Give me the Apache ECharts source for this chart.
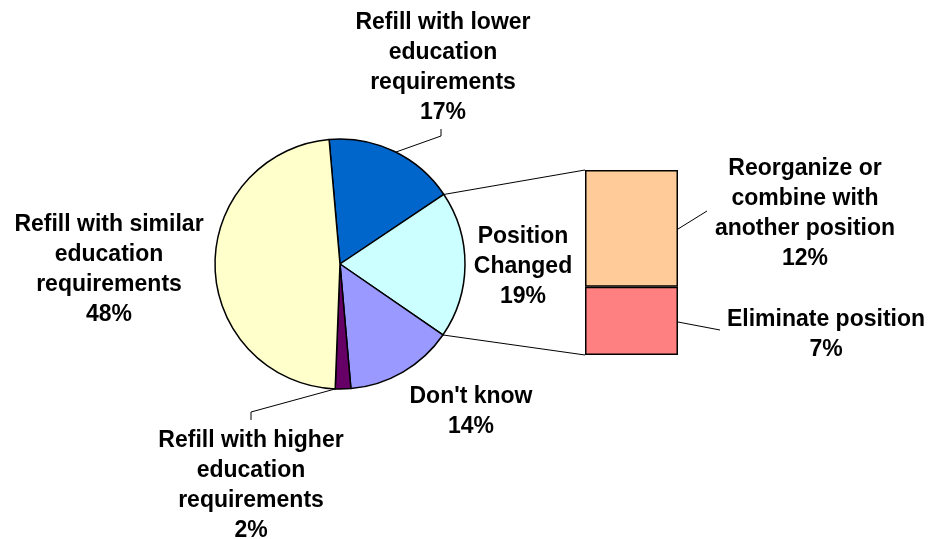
<!DOCTYPE html>
<html>
<head>
<meta charset="utf-8">
<script src="https://cdn.jsdelivr.net/npm/echarts@6/dist/echarts.min.js"></script>
<style>html,body{margin:0;padding:0;background:#fff}#c{width:932px;height:539px}</style>
</head>
<body>
<div id="c"></div>
<script>
// ---- data ----
const pieNames = [
  'Refill with lower\neducation\nrequirements',
  'Position\nChanged',
  "Don't know",
  'Refill with higher\neducation\nrequirements',
  'Refill with similar\neducation\nrequirements'
];
const pieValues = [17, 19, 14, 2, 48];
const pieColors = ['#0066CC', '#CCFFFF', '#9999FF', '#660066', '#FFFFCC'];

const barNames = ['Eliminate position', 'Reorganize or\ncombine with\nanother position'];
const barValues = [7, 12];
const barColors = ['#FF8080', '#FFCC99'];
const barCategory = ['Position Changed'];

// ---- layout ----
const CX = 340, CY = 264, R = 125, START = 95;
const FONT = { fontFamily: 'Arial, "Liberation Sans", sans-serif', fontWeight: 'bold', fontSize: 23, lineHeight: 30, color: '#000' };
const labelPos = [[443, 68], [523, 267], [471, 412], [251, 486], [109, 270]];
const labelLines = {
  0: [[396, 152], [441, 136], [441, 129]],
  3: [[335, 389], [251, 412], [251, 420]]
};

const chart = echarts.init(document.getElementById('c'));
const total = pieValues.reduce((a, b) => a + b, 0);

chart.setOption({
  animation: false,
  backgroundColor: '#fff',
  grid: { left: 585, top: 170, width: 93, height: 185 },
  xAxis: { type: 'category', data: barCategory, show: false },
  yAxis: { type: 'value', min: 0, max: barValues.reduce((a, b) => a + b, 0), show: false },
  series: [
    {
      type: 'pie',
      center: [CX, CY],
      radius: R,
      startAngle: START,
      clockwise: true,
      avoidLabelOverlap: false,
      itemStyle: { borderColor: '#000', borderWidth: 1.5 },
      label: Object.assign({ show: true, position: 'outside', formatter: p => p.name + '\n' + p.value + '%' }, FONT),
      labelLine: { show: true, lineStyle: { color: '#000', width: 1 } },
      labelLayout: p => {
        const i = p.dataIndex;
        const o = { x: labelPos[i][0], y: labelPos[i][1], align: 'center', verticalAlign: 'middle' };
        if (labelLines[i]) o.labelLinePoints = labelLines[i];
        return o;
      },
      data: pieNames.map((n, i) => ({
        name: n, value: pieValues[i],
        itemStyle: { color: pieColors[i] },
        labelLine: { show: !!labelLines[i] }
      }))
    },
    ...barValues.map((v, i) => ({
      type: 'bar',
      stack: 'pc',
      name: barNames[i],
      data: [v],
      barWidth: '100%',
      itemStyle: { color: barColors[i], borderColor: '#000', borderWidth: 1.5 },
      label: Object.assign({
        show: true,
        position: i === 0 ? [241, 48] : [220, 44],
        align: 'center', verticalAlign: 'middle',
        formatter: p => p.seriesName + '\n' + p.value + '%'
      }, FONT)
    }))
  ]
});

// connector lines from the "Position Changed" slice edges to the bar
const before = pieValues.slice(0, 1).reduce((a, b) => a + b, 0);
const a1 = (START - before / total * 360) * Math.PI / 180;
const a2 = (START - (before + pieValues[1]) / total * 360) * Math.PI / 180;
const p1 = [CX + R * Math.cos(a1), CY - R * Math.sin(a1)];
const p2 = [CX + R * Math.cos(a2), CY - R * Math.sin(a2)];
const barSum = barValues.reduce((a, b) => a + b, 0);
const topPt = chart.convertToPixel({ gridIndex: 0 }, [0, barSum]);
const botPt = chart.convertToPixel({ gridIndex: 0 }, [0, 0]);
const barLeft = 585, barRight = 678;
const ls = { stroke: '#000', lineWidth: 1 };
chart.setOption({
  graphic: [
    { type: 'line', shape: { x1: p1[0], y1: p1[1], x2: barLeft, y2: topPt[1] }, style: ls },
    { type: 'line', shape: { x1: p2[0], y1: p2[1], x2: barLeft, y2: botPt[1] }, style: ls },
    { type: 'line', shape: { x1: barRight, y1: 229, x2: 707, y2: 211 }, style: ls },
    { type: 'line', shape: { x1: barRight, y1: 322, x2: 720, y2: 330 }, style: ls }
  ]
});
</script>
</body>
</html>
